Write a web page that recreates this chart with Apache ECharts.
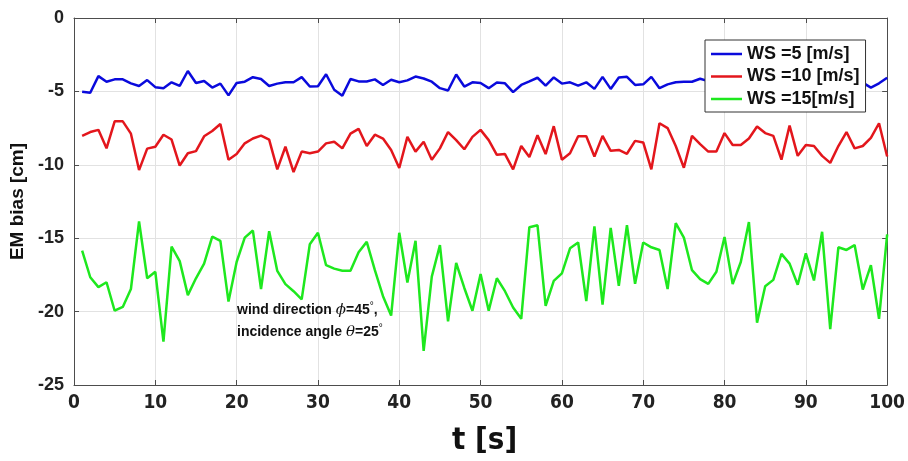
<!DOCTYPE html>
<html><head><meta charset="utf-8">
<script src="https://cdn.jsdelivr.net/npm/echarts@6/dist/echarts.min.js"></script>
<style>html,body{margin:0;padding:0;background:#fff}#c{width:908px;height:461px}</style>
</head><body><div id="c"></div>
<script>
// time axis: samples at t = 1..100 s
const tValues = Array.from({length:100}, (_, i) => i + 1);
const xTicks = [0,10,20,30,40,50,60,70,80,90,100];
const yTicks = [0,-5,-10,-15,-20,-25];
const seriesNames = ['WS =5 [m/s]', 'WS =10 [m/s]', 'WS =15[m/s]'];

const ws5 = [-5.03,-5.09,-3.96,-4.34,-4.18,-4.18,-4.45,-4.63,-4.23,-4.71,
-4.78,-4.38,-4.63,-3.61,-4.43,-4.29,-4.74,-4.47,-5.27,-4.43,
-4.34,-4.03,-4.16,-4.63,-4.47,-4.38,-4.38,-4.03,-4.67,-4.65,
-3.83,-4.89,-5.29,-4.16,-4.32,-4.32,-4.18,-4.56,-4.21,-4.38,
-4.25,-3.99,-4.12,-4.34,-4.78,-4.94,-3.85,-4.67,-4.38,-4.43,
-4.78,-4.40,-4.45,-5.05,-4.56,-4.32,-4.07,-4.61,-4.05,-4.47,
-4.38,-4.61,-4.38,-4.83,-4.01,-4.83,-4.05,-4.01,-4.56,-4.52,
-4.01,-4.78,-4.52,-4.38,-4.34,-4.34,-4.14,-4.30,-4.40,-4.20,
-4.50,-4.30,-4.10,-4.40,-4.30,-4.60,-4.20,-4.30,-4.50,-4.20,
-4.40,-4.30,-4.60,-4.20,-4.30,-4.05,-4.40,-4.74,-4.45,-4.07];

const ws10 = [-8.03,-7.77,-7.62,-8.88,-7.04,-7.04,-7.88,-10.36,-8.90,-8.77,
-7.95,-8.28,-10.05,-9.21,-9.07,-8.06,-7.70,-7.22,-9.65,-9.27,
-8.54,-8.21,-8.01,-8.28,-10.31,-8.77,-10.49,-9.10,-9.21,-9.10,
-8.54,-8.43,-8.88,-7.88,-7.55,-8.72,-7.95,-8.21,-8.99,-10.22,
-8.10,-9.10,-8.43,-9.65,-8.88,-7.77,-8.32,-8.94,-8.10,-7.62,
-8.32,-9.32,-9.27,-10.31,-8.72,-9.47,-7.99,-9.27,-7.37,-9.65,
-9.21,-8.06,-8.06,-9.43,-8.03,-9.05,-8.99,-9.25,-8.37,-8.48,
-10.31,-7.17,-7.50,-8.72,-10.20,-8.03,-8.59,-9.10,-9.10,-7.84,
-8.65,-8.65,-8.21,-7.39,-7.84,-8.03,-9.65,-7.33,-9.39,-8.65,
-8.72,-9.39,-9.87,-8.72,-7.77,-8.88,-8.72,-8.17,-7.17,-9.43];

const ws15 = [-15.85,-17.66,-18.33,-18.00,-19.94,-19.68,-18.46,-13.86,-17.73,-17.29,
-22.05,-15.58,-16.56,-18.88,-17.73,-16.73,-14.90,-15.18,-19.32,-16.62,
-14.96,-14.48,-18.46,-14.52,-17.23,-18.13,-18.61,-19.17,-15.41,-14.63,
-16.84,-17.07,-17.22,-17.22,-15.96,-15.25,-17.18,-18.95,-20.27,-14.63,
-18.02,-15.18,-22.67,-17.62,-15.47,-20.67,-16.69,-18.39,-19.94,-17.44,
-19.94,-17.73,-18.61,-19.72,-20.49,-14.25,-14.12,-19.61,-17.91,-17.40,
-15.69,-15.29,-19.28,-14.19,-19.52,-14.30,-18.24,-14.12,-18.11,-15.29,
-15.62,-15.80,-18.46,-13.97,-14.96,-17.18,-17.79,-18.11,-17.29,-14.92,
-18.13,-16.62,-13.90,-20.76,-18.28,-17.84,-16.07,-16.73,-18.17,-16.03,
-17.88,-14.56,-21.20,-15.62,-15.80,-15.47,-18.50,-16.84,-20.49,-14.74];

const colors = ['#0a0adc', '#e3161c', '#1ee81e'];
const pairs = arr => tValues.map((t, i) => [t, arr[i]]);

const chart = echarts.init(document.getElementById('c'), null, {renderer:'canvas'});
const axisCol = '#4d4d4d';
const gridCol = '#e2e2e2';
const labFont = 'Liberation Sans, Arial, sans-serif';
const narrow = 'DejaVu Sans Condensed, Liberation Sans Narrow, Liberation Sans, sans-serif';

chart.setOption({
  animation: false,
  backgroundColor: '#fff',
  grid: {left: 74, right: 17, top: 18, bottom: 68, containLabel: false},
  legend: {
    orient: 'vertical', left: 705, top: 40,
    data: seriesNames,
    icon: 'rect', itemWidth: 31, itemHeight: 2.5, itemGap: 4.5,
    padding: [5, 6, 4, 6],
    backgroundColor: '#fff', borderColor: '#333', borderWidth: 1,
    textStyle: {fontFamily: labFont, fontWeight: 'bold', fontSize: 18, color: '#111', lineHeight: 18}
  },
  xAxis: [{
    type: 'value', min: 0, max: 100, interval: 10,
    name: 't [s]', nameLocation: 'middle', nameGap: 40,
    nameTextStyle: {fontFamily: narrow, fontWeight: 'bold', fontSize: 31, color: '#111', padding: [0, 0, 0, 8]},
    axisLine: {show: true, onZero: false, lineStyle: {color: axisCol, width: 1}},
    axisTick: {show: true, inside: true, length: 5, lineStyle: {color: axisCol}},
    axisLabel: {fontFamily: narrow, fontWeight: 'bold', fontSize: 19, color: '#222', margin: 9,
      formatter: v => String(xTicks.includes(v) ? v : '')},
    splitLine: {show: true, lineStyle: {color: gridCol, width: 1}}
  }, {
    type: 'value', min: 0, max: 100, interval: 10, position: 'top',
    axisLine: {show: true, onZero: false, lineStyle: {color: axisCol, width: 1}},
    axisTick: {show: true, inside: true, length: 5, lineStyle: {color: axisCol}},
    axisLabel: {show: false}, splitLine: {show: false}
  }],
  yAxis: [{
    type: 'value', min: -25, max: 0, interval: 5,
    name: 'EM bias [cm]', nameLocation: 'middle', nameGap: 42,
    nameTextStyle: {fontFamily: labFont, fontWeight: 'bold', fontSize: 19, color: '#111'},
    axisLine: {show: true, onZero: false, lineStyle: {color: axisCol, width: 1}},
    axisTick: {show: true, inside: true, length: 5, lineStyle: {color: axisCol}},
    axisLabel: {fontFamily: labFont, fontWeight: 'bold', fontSize: 18, color: '#222', margin: 10,
      formatter: v => String(yTicks.includes(v) ? v : '')},
    splitLine: {show: true, lineStyle: {color: gridCol, width: 1}}
  }, {
    type: 'value', min: -25, max: 0, interval: 5, position: 'right',
    axisLine: {show: true, onZero: false, lineStyle: {color: axisCol, width: 1}},
    axisTick: {show: true, inside: true, length: 5, lineStyle: {color: axisCol}},
    axisLabel: {show: false}, splitLine: {show: false}
  }],
  series: [ws5, ws10, ws15].map((arr, k) => ({
    name: seriesNames[k], type: 'line', data: pairs(arr),
    symbol: 'none', smooth: false,
    lineStyle: {color: colors[k], width: 2.5},
    itemStyle: {color: colors[k]}, z: 3 + k
  })),
  graphic: [{
    type: 'text', left: 237, top: 301, z: 100,
    style: {
      text: '{b|wind direction }{g|ϕ}{b|=45}{s|°}{b|,}',
      rich: {
        b: {fontFamily: labFont, fontWeight: 'bold', fontSize: 14, fill: '#111'},
        g: {fontFamily: 'DejaVu Serif, serif', fontStyle: 'italic', fontSize: 15, fill: '#111'},
        s: {fontFamily: labFont, fontSize: 10, fill: '#111', verticalAlign: 'top', padding: [0,0,8,0]}
      }
    }
  }, {
    type: 'text', left: 237, top: 323, z: 100,
    style: {
      text: '{b|incidence angle }{g|θ}{b|=25}{s|°}',
      rich: {
        b: {fontFamily: labFont, fontWeight: 'bold', fontSize: 14, fill: '#111'},
        g: {fontFamily: 'DejaVu Serif, serif', fontStyle: 'italic', fontSize: 15, fill: '#111'},
        s: {fontFamily: labFont, fontSize: 10, fill: '#111', verticalAlign: 'top', padding: [0,0,8,0]}
      }
    }
  }]
});
</script>
</body></html>
